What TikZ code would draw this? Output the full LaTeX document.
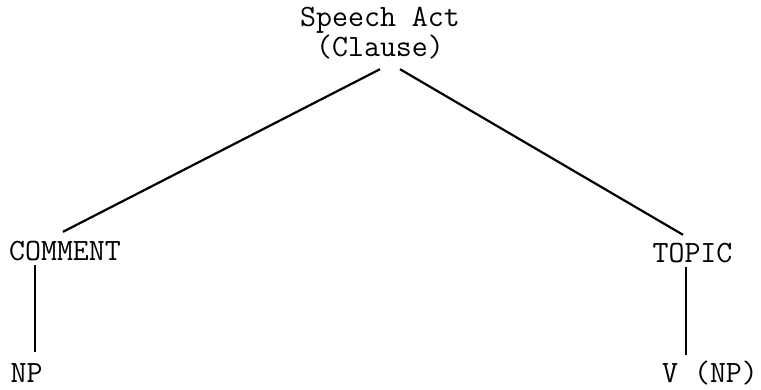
\documentclass[tikz,border=0pt]{standalone}
\usepackage{fontspec}
\begin{document}
\begin{tikzpicture}[x=1pt,y=-1pt,
  lbl/.style={inner sep=0pt,anchor=base,font=\ttfamily\fontsize{31}{27}\selectfont,
              text height=17pt,text depth=5pt},
  edge/.style={line width=2.2pt,black}]
\useasboundingbox (0,0) rectangle (761,389);
\node[lbl,align=center] (root) at (380,56) {Speech Act\\(Clause)};
\node[lbl] (comment) at (65,260) {COMMENT};
\node[lbl] (topic) at (692.5,262) {TOPIC};
\node[lbl] (np) at (26.5,382) {NP};
\node[lbl] (vnp) at (710,382) {V (NP)};
\draw[edge] ([xshift=0pt,yshift=-8pt]root.south) -- ([xshift=-2pt,yshift=11pt]comment.north);
\draw[edge] ([xshift=20pt,yshift=-8pt]root.south) -- ([xshift=-9.5pt,yshift=10pt]topic.north);
\draw[edge] ([xshift=-30pt]comment.south) -- ([xshift=8.5pt,yshift=13pt]np.north);
\draw[edge] ([xshift=-6.5pt]topic.south) -- ([xshift=-24pt,yshift=10pt]vnp.north);
\end{tikzpicture}
\end{document}
